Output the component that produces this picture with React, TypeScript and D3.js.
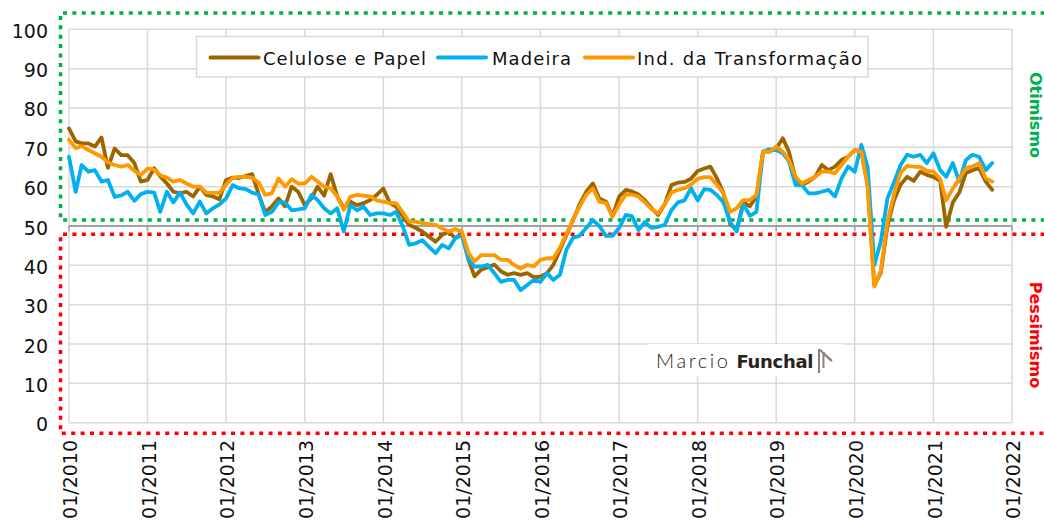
import React from "react";
import * as d3 from "d3";

// Monthly series, Jan 2010 .. Oct 2021
const celulosePapel = [
  74.8, 71.5, 71.0, 71.0, 70.2, 72.5, 64.8, 69.7, 68.0, 68.0, 66.0, 61.3,
  61.7, 64.7, 62.6, 60.8, 58.7, 58.3, 58.7, 57.5, 60.0, 57.9, 57.5, 56.8,
  61.7, 62.3, 62.2, 62.7, 63.2, 58.0, 53.5, 55.0, 57.0, 55.0, 60.0, 58.7,
  55.3, 57.0, 60.0, 57.7, 63.2, 57.5, 54.5, 56.2, 55.3, 55.8, 56.6, 57.9,
  59.5, 55.8, 54.9, 52.5, 50.3, 49.5, 48.6, 47.3, 46.0, 47.7, 48.6, 46.9,
  48.0, 41.4, 37.2, 38.9, 39.5, 40.2, 38.5, 37.6, 38.0, 37.6, 38.0, 37.0,
  37.1, 38.0, 40.1, 43.9, 47.7, 51.5, 55.5, 58.7, 60.8, 57.0, 56.2, 52.4,
  57.5, 59.2, 58.8, 58.0, 56.5, 54.5, 52.8, 55.5, 60.4, 61.0, 61.2, 62.0,
  64.0, 64.6, 65.1, 62.1, 58.3, 50.5, 49.0, 56.0, 55.0, 57.5, 68.9, 68.9,
  69.7, 72.3, 68.9, 62.1, 60.4, 61.3, 62.5, 65.5, 64.2, 65.1, 66.8, 67.6,
  69.3, 68.9, 60.5, 35.0, 38.0, 50.0, 56.5, 60.5, 62.5, 61.5, 63.8, 63.0,
  62.5, 61.5, 49.8, 56.0, 58.5, 63.5, 64.2, 64.7, 61.3, 59.2,
];

const madeira = [
  67.6, 58.7, 65.5, 63.8, 64.2, 61.3, 61.7, 57.4, 57.8, 58.7, 56.4, 58.1,
  58.7, 58.5, 53.6, 58.7, 56.0, 58.5, 55.5, 53.2, 56.2, 53.2, 54.5, 55.5,
  57.0, 60.4, 59.6, 59.4, 58.5, 58.0, 52.8, 53.6, 56.0, 56.0, 54.0, 54.2,
  54.5, 57.9, 56.6, 54.5, 53.2, 54.5, 48.6, 55.3, 54.0, 54.9, 52.8, 53.2,
  53.2, 52.8, 53.6, 50.0, 45.2, 45.6, 46.4, 44.7, 43.1, 45.2, 44.3, 46.9,
  47.7, 41.4, 39.7, 39.7, 40.1, 38.0, 35.8, 36.3, 36.3, 33.7, 35.0, 36.3,
  35.8, 38.0, 36.3, 37.6, 44.0, 47.0, 47.5, 49.5, 51.5, 50.0, 47.5, 47.5,
  49.5, 52.8, 52.5, 49.0, 51.0, 49.5, 49.8, 50.3, 54.0, 56.0, 56.5, 59.6,
  56.5, 59.4, 59.2, 57.8, 56.0, 51.0, 48.6, 55.5, 52.6, 53.6, 68.9, 69.5,
  69.3, 68.5, 66.5, 60.4, 60.4, 58.3, 58.3, 58.7, 59.2, 57.5, 62.1, 65.1,
  63.8, 70.6, 65.0, 40.0, 46.0, 57.0, 61.0, 65.5, 68.1, 67.6, 68.1, 66.0,
  68.5, 64.2, 62.5, 66.0, 61.3, 66.8, 68.1, 67.6, 64.2, 66.0,
];

const indTransformacao = [
  71.9, 69.8, 70.3, 69.3, 68.5, 67.6, 66.2, 65.5, 65.1, 65.5, 64.0, 63.0,
  64.6, 64.4, 62.9, 62.3, 61.3, 61.7, 60.8, 60.0, 60.0, 58.5, 58.4, 58.4,
  60.5, 62.2, 62.5, 62.5, 62.3, 61.0, 57.9, 58.3, 62.1, 60.0, 61.9, 60.8,
  60.8, 62.5, 61.3, 60.0, 59.6, 57.5, 54.1, 57.5, 57.9, 57.7, 57.5, 56.5,
  56.2, 55.8, 55.8, 53.5, 51.1, 51.1, 50.7, 50.5, 50.3, 49.4, 48.6, 49.2,
  48.6, 43.1, 41.0, 42.6, 42.6, 42.6, 41.4, 41.4, 40.1, 39.2, 40.1, 39.7,
  41.4, 41.8, 41.8, 44.5, 48.1, 51.5, 54.9, 57.9, 59.6, 56.2, 55.8, 52.4,
  55.5, 58.0, 58.0, 57.5, 56.0, 54.3, 53.2, 55.5, 58.5, 59.2, 59.6, 60.5,
  62.0, 62.4, 62.4, 60.4, 58.3, 53.6, 54.5, 56.6, 56.6, 57.9, 68.9, 68.9,
  70.2, 68.9, 66.8, 62.5, 60.8, 61.7, 62.5, 63.8, 63.8, 63.4, 65.5, 67.6,
  69.3, 68.9, 60.0, 34.6, 38.5, 51.0, 58.0, 63.5, 65.3, 65.1, 65.0, 64.0,
  63.8, 62.0, 56.5, 59.5, 62.0, 64.7, 65.1, 66.0, 62.1, 61.3,
];

const seriesNames = ["Celulose e Papel", "Madeira", "Ind. da Transformação"];
const seriesColors = ["#9C6500", "#00B0F0", "#FF9900"];
const yTicks = [0, 10, 20, 30, 40, 50, 60, 70, 80, 90, 100];
const xTickLabels = [
  "01/2010", "01/2011", "01/2012", "01/2013", "01/2014", "01/2015", "01/2016",
  "01/2017", "01/2018", "01/2019", "01/2020", "01/2021", "01/2022",
];
const neutralLevel = 50;

const W = 1044;
const H = 524;
const PL = 69;
const PR = 1012;
const PT = 29.3;
const PB = 422.7;
const FONT = "'DejaVu Sans', Verdana, sans-serif";

export default function App() {
  const x = d3
    .scaleTime()
    .domain([new Date(2010, 0, 1), new Date(2022, 0, 1)])
    .range([PL, PR]);
  const y = d3.scaleLinear().domain([0, 100]).range([PB, PT]);

  const dates = celulosePapel.map((_, i) => new Date(2010, i, 1));
  const tickDates = xTickLabels.map((l) => {
    const [m, yr] = l.split("/");
    return new Date(+yr, +m - 1, 1);
  });

  const lineGen = d3
    .line<number>()
    .x((_, i) => x(dates[i]))
    .y((v) => y(v));

  const series = [celulosePapel, madeira, indTransformacao];
  const yAxis = y(neutralLevel);

  const greenTop = 13;
  const greenBottom = 220;
  const redTop = 234.3;
  const redBottom = 433.3;
  const boxLeft = 60.5;
  const dash = "4 5.4";

  return (
    <svg
      width={W}
      height={H}
      style={{ position: "absolute", left: 0, top: 0, display: "block", background: "#fff" }}
      fontFamily={FONT}
    >
      <rect x={0} y={0} width={W} height={H} fill="#fff" />

      {/* gridlines */}
      {yTicks.map((t) => (
        <line key={"gy" + t} x1={PL} x2={PR} y1={y(t)} y2={y(t)} stroke="#d9d9d9" strokeWidth={1.5} />
      ))}
      {tickDates.map((d, i) => (
        <line key={"gx" + i} x1={x(d)} x2={x(d)} y1={PT} y2={PB} stroke="#d9d9d9" strokeWidth={1.5} />
      ))}

      {/* axis crossing at 50 */}
      <line x1={PL} x2={PR} y1={yAxis} y2={yAxis} stroke="#a0a0a0" strokeWidth={1.8} />
      {tickDates.map((d, i) => (
        <line key={"tk" + i} x1={x(d)} x2={x(d)} y1={yAxis} y2={yAxis + 5} stroke="#a0a0a0" strokeWidth={1.5} />
      ))}

      {/* zone boxes */}
      <path
        d={`M${W + 10},${greenTop} H${boxLeft} V${greenBottom} H${W + 10}`}
        fill="none"
        stroke="#00B050"
        strokeWidth={3.6}
        strokeDasharray={dash}
      />
      <path
        d={`M${W + 10},${redTop} H${boxLeft} V${redBottom} H${W + 10}`}
        fill="none"
        stroke="#FF0000"
        strokeWidth={3.6}
        strokeDasharray={dash}
      />

      {/* series */}
      {series.map((vals, k) => (
        <path
          key={"s" + k}
          d={lineGen(vals) || ""}
          fill="none"
          stroke={seriesColors[k]}
          strokeWidth={3.8}
          strokeLinejoin="round"
          strokeLinecap="round"
        />
      ))}

      {/* y labels */}
      {yTicks.map((t) => (
        <text key={"yl" + t} x={48} y={y(t) + 8.5} textAnchor="end" fontSize={19} fill="#111">
          {t}
        </text>
      ))}

      {/* x labels */}
      {tickDates.map((d, i) => (
        <text
          key={"xl" + i}
          transform={`translate(${x(d) + 8.3},440) rotate(-90)`}
          textAnchor="end"
          fontSize={19}
          fill="#111"
        >
          {xTickLabels[i]}
        </text>
      ))}

      {/* legend */}
      <rect x={196.5} y={36.5} width={671.5} height={40.5} fill="#fff" stroke="#d9d9d9" strokeWidth={1.5} />
      {[
        { lx: 210.5, tx: 263, tl: 163 },
        { lx: 438, tx: 492, tl: 79 },
        { lx: 585, tx: 637, tl: 225 },
      ].map((p, k) => (
        <g key={"lg" + k}>
          <line x1={p.lx} x2={p.lx + 48} y1={57.5} y2={57.5} stroke={seriesColors[k]} strokeWidth={4} strokeLinecap="round" />
          <text x={p.tx} y={65} fontSize={18} fill="#111" textLength={p.tl} lengthAdjust="spacing">
            {seriesNames[k]}
          </text>
        </g>
      ))}

      {/* zone labels */}
      <text
        transform="translate(1035.5,115) rotate(90)"
        textAnchor="middle"
        dominantBaseline="central"
        fontSize={16}
        fontWeight="bold"
        fill="#00B050"
      >
        Otimismo
      </text>
      <text
        transform="translate(1035.5,335) rotate(90)"
        textAnchor="middle"
        dominantBaseline="central"
        fontSize={16}
        fontWeight="bold"
        fill="#FF0000"
      >
        Pessimismo
      </text>

      {/* watermark */}
      <rect x={648} y={344} width={195} height={32} fill="#fff" />
      <text x={656} y={368} fontFamily="Lato, 'Open Sans', sans-serif" fontWeight={300} fontSize={20} fill="#2b2220" textLength={72} lengthAdjust="spacing">
        Marcio
      </text>
      <text x={736.5} y={368} fontSize={18} fontWeight="bold" fill="#2b2220" textLength={77} lengthAdjust="spacing">
        Funchal
      </text>
      <g stroke="#8f8076" strokeWidth={2} fill="none">
        <path d="M819,373 V349" />
        <path d="M823.5,368 V352" />
        <path d="M819.5,349.5 L832,361" />
        <path d="M823.5,353.5 L831,360.5" />
      </g>
    </svg>
  );
}
